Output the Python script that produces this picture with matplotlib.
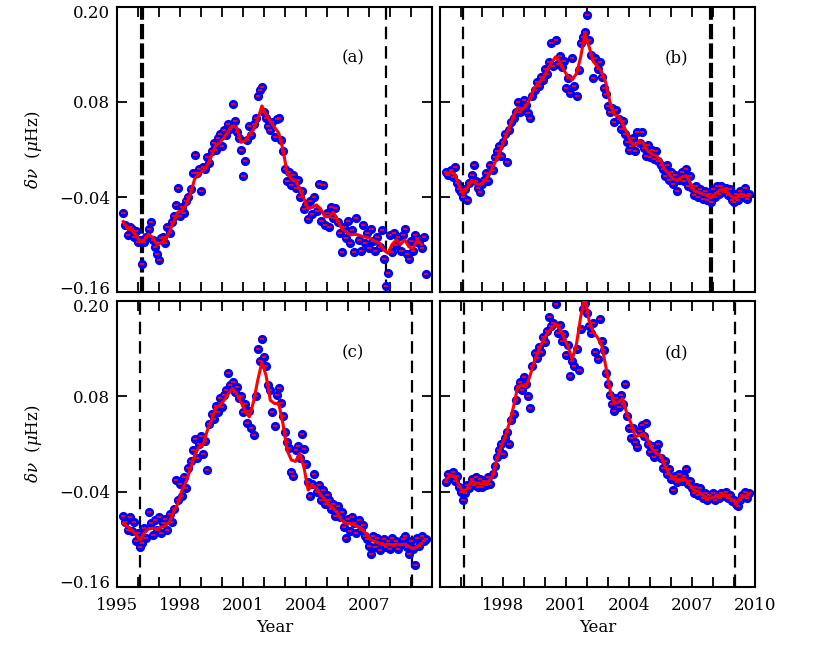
import numpy as np
import matplotlib
matplotlib.use('Agg')
import matplotlib.pyplot as plt
import matplotlib.transforms as mtrans
from matplotlib.ticker import FixedLocator, MultipleLocator

plt.rcParams['font.family'] = 'DejaVu Serif'
plt.rcParams['mathtext.fontset'] = 'dejavuserif'
plt.rcParams['lines.scale_dashes'] = False

##      time axes      ##
# scatter points, one every 0.1 yr (rows = calendar years)
yrs = [1995.3, 1995.4, 1995.5, 1995.6, 1995.7, 1995.8, 1995.9,
       1996.0, 1996.1, 1996.2, 1996.3, 1996.4, 1996.5, 1996.6, 1996.7, 1996.8, 1996.9,
       1997.0, 1997.1, 1997.2, 1997.3, 1997.4, 1997.5, 1997.6, 1997.7, 1997.8, 1997.9,
       1998.0, 1998.1, 1998.2, 1998.3, 1998.4, 1998.5, 1998.6, 1998.7, 1998.8, 1998.9,
       1999.0, 1999.1, 1999.2, 1999.3, 1999.4, 1999.5, 1999.6, 1999.7, 1999.8, 1999.9,
       2000.0, 2000.1, 2000.2, 2000.3, 2000.4, 2000.5, 2000.6, 2000.7, 2000.8, 2000.9,
       2001.0, 2001.1, 2001.2, 2001.3, 2001.4, 2001.5, 2001.6, 2001.7, 2001.8, 2001.9,
       2002.0, 2002.1, 2002.2, 2002.3, 2002.4, 2002.5, 2002.6, 2002.7, 2002.8, 2002.9,
       2003.0, 2003.1, 2003.2, 2003.3, 2003.4, 2003.5, 2003.6, 2003.7, 2003.8, 2003.9,
       2004.0, 2004.1, 2004.2, 2004.3, 2004.4, 2004.5, 2004.6, 2004.7, 2004.8, 2004.9,
       2005.0, 2005.1, 2005.2, 2005.3, 2005.4, 2005.5, 2005.6, 2005.7, 2005.8, 2005.9,
       2006.0, 2006.1, 2006.2, 2006.3, 2006.4, 2006.5, 2006.6, 2006.7, 2006.8, 2006.9,
       2007.0, 2007.1, 2007.2, 2007.3, 2007.4, 2007.5, 2007.6, 2007.7, 2007.8, 2007.9,
       2008.0, 2008.1, 2008.2, 2008.3, 2008.4, 2008.5, 2008.6, 2008.7, 2008.8, 2008.9,
       2009.0, 2009.1, 2009.2, 2009.3, 2009.4, 2009.5, 2009.6, 2009.7]

# smoothed curve, one every 0.2 yr
yrs_s = [1995.3, 1995.5, 1995.7, 1995.9,
         1996.1, 1996.3, 1996.5, 1996.7, 1996.9,
         1997.1, 1997.3, 1997.5, 1997.7, 1997.9,
         1998.1, 1998.3, 1998.5, 1998.7, 1998.9,
         1999.1, 1999.3, 1999.5, 1999.7, 1999.9,
         2000.1, 2000.3, 2000.5, 2000.7, 2000.9,
         2001.1, 2001.3, 2001.5, 2001.7, 2001.9,
         2002.1, 2002.3, 2002.5, 2002.7, 2002.9,
         2003.1, 2003.3, 2003.5, 2003.7, 2003.9,
         2004.1, 2004.3, 2004.5, 2004.7, 2004.9,
         2005.1, 2005.3, 2005.5, 2005.7, 2005.9,
         2006.1, 2006.3, 2006.5, 2006.7, 2006.9,
         2007.1, 2007.3, 2007.5, 2007.7, 2007.9,
         2008.1, 2008.3, 2008.5, 2008.7, 2008.9,
         2009.1, 2009.3, 2009.5, 2009.7]

##      panel (a)      ##
dnu_a = [-0.060, -0.075, -0.088, -0.078, -0.080, -0.090, -0.083,
         -0.097, -0.094, -0.125, -0.097, -0.090, -0.080, -0.072, -0.094, -0.103, -0.112,
         -0.120, -0.092, -0.090, -0.098, -0.078, -0.086, -0.072, -0.064, -0.050, -0.028,
         -0.064, -0.052, -0.060, -0.045, -0.040, -0.030, -0.010, 0.013, -0.010, -0.004,
         -0.032, -0.002, -0.005, 0.010, 0.003, 0.018, 0.028, 0.020, 0.034, 0.040,
         0.025, 0.045, 0.038, 0.052, 0.046, 0.078, 0.056, 0.042, 0.035, 0.020,
         -0.013, 0.005, 0.032, 0.050, 0.038, 0.052, 0.060, 0.088, 0.095, 0.099,
         0.068, 0.060, 0.050, 0.045, 0.055, 0.036, 0.058, 0.060, 0.032, 0.018,
         -0.005, -0.020, -0.008, -0.025, -0.012, -0.028, -0.018, -0.040, -0.032, -0.055,
         -0.050, -0.068, -0.045, -0.062, -0.040, -0.058, -0.024, -0.070, -0.025, -0.075,
         -0.060, -0.078, -0.052, -0.066, -0.054, -0.072, -0.085, -0.110, -0.078, -0.092,
         -0.070, -0.098, -0.082, -0.110, -0.066, -0.094, -0.108, -0.075, -0.098, -0.085,
         -0.104, -0.080, -0.095, -0.108, -0.090, -0.103, -0.082, -0.118, -0.153, -0.136,
         -0.088, -0.110, -0.085, -0.100, -0.090, -0.108, -0.088, -0.080, -0.112, -0.118,
         -0.096, -0.108, -0.088, -0.092, -0.098, -0.104, -0.090, -0.137]
smo_a = [-0.071, -0.080, -0.082, -0.088,
         -0.096, -0.094, -0.087, -0.091, -0.100,
         -0.098, -0.094, -0.084, -0.071, -0.059,
         -0.057, -0.050, -0.036, -0.017, -0.011,
         -0.007, 0.000, 0.012, 0.025, 0.029,
         0.035, 0.043, 0.050, 0.048, 0.029,
         0.031, 0.039, 0.045, 0.058, 0.075,
         0.064, 0.056, 0.048, 0.041, 0.020,
         -0.009, -0.017, -0.019, -0.030, -0.042,
         -0.055, -0.053, -0.050, -0.055, -0.065,
         -0.065, -0.059, -0.069, -0.080, -0.084,
         -0.088, -0.087, -0.088, -0.090, -0.091,
         -0.093, -0.096, -0.098, -0.107, -0.111,
         -0.100, -0.094, -0.100, -0.094, -0.103,
         -0.105, -0.094, -0.100, np.nan]

##      panel (b)      ##
dnu_b = [-0.008, -0.012, -0.006, -0.015, -0.002, -0.022, -0.030,
         -0.034, -0.040, -0.030, -0.044, -0.022, -0.012, 0.000, -0.020, -0.028, -0.034,
         -0.024, -0.018, -0.010, -0.020, 0.000, -0.006, 0.010, 0.018, 0.024, 0.012,
         0.030, 0.040, 0.004, 0.045, 0.055, 0.060, 0.068, 0.080, 0.068, 0.072,
         0.082, 0.076, 0.066, 0.060, 0.088, 0.095, 0.105, 0.100, 0.112, 0.108,
         0.122, 0.115, 0.130, 0.155, 0.125, 0.158, 0.128, 0.138, 0.124, 0.132,
         0.098, 0.110, 0.092, 0.135, 0.100, 0.088, 0.120, 0.155, 0.162, 0.168,
         0.190, 0.158, 0.140, 0.110, 0.135, 0.122, 0.130, 0.112, 0.098, 0.090,
         0.075, 0.068, 0.072, 0.055, 0.070, 0.058, 0.046, 0.056, 0.040, 0.030,
         0.020, 0.024, 0.035, 0.018, 0.042, 0.028, 0.042, 0.022, 0.012, 0.026,
         0.010, 0.020, 0.008, 0.018, 0.006, 0.000, -0.004, -0.014, 0.000, -0.018,
         -0.008, -0.024, -0.012, -0.033, -0.018, -0.008, -0.020, -0.004, -0.026, -0.014,
         -0.028, -0.038, -0.026, -0.040, -0.030, -0.042, -0.032, -0.044, -0.036, -0.046,
         -0.030, -0.040, -0.026, -0.036, -0.026, -0.034, -0.028, -0.038, -0.030, -0.044,
         -0.046, -0.036, -0.044, -0.032, -0.040, -0.028, -0.042, -0.036]
smo_b = [-0.011, -0.009, -0.011, -0.025,
         -0.036, -0.028, -0.019, -0.023, -0.025,
         -0.020, -0.013, -0.003, 0.008, 0.020,
         0.035, 0.048, 0.062, 0.073, 0.070,
         0.075, 0.085, 0.098, 0.104, 0.110,
         0.120, 0.129, 0.137, 0.131, 0.120,
         0.112, 0.108, 0.116, 0.137, 0.166,
         0.150, 0.131, 0.125, 0.118, 0.104,
         0.079, 0.064, 0.062, 0.052, 0.041,
         0.029, 0.025, 0.031, 0.027, 0.018,
         0.014, 0.012, 0.006, -0.005, -0.011,
         -0.017, -0.019, -0.015, -0.013, -0.021,
         -0.032, -0.034, -0.036, -0.038, -0.041,
         -0.036, -0.032, -0.030, -0.034, -0.040,
         -0.042, -0.036, -0.038, -0.038]

##      panel (c)      ##
dnu_c = [-0.070, -0.078, -0.088, -0.072, -0.090, -0.078, -0.102,
         -0.092, -0.110, -0.104, -0.086, -0.098, -0.065, -0.080, -0.094, -0.076, -0.088,
         -0.072, -0.092, -0.080, -0.074, -0.088, -0.068, -0.078, -0.062, -0.025, -0.050,
         -0.030, -0.045, -0.022, -0.035, -0.010, -0.002, 0.012, 0.026, 0.002, 0.020,
         0.030, 0.008, 0.024, -0.013, 0.045, 0.058, 0.052, 0.068, 0.060, 0.078,
         0.066, 0.082, 0.088, 0.109, 0.094, 0.098, 0.086, 0.092, 0.078, 0.080,
         0.060, 0.070, 0.046, 0.062, 0.040, 0.031, 0.080, 0.140, 0.125, 0.152,
         0.130, 0.118, 0.094, 0.088, 0.060, 0.043, 0.082, 0.090, 0.072, 0.055,
         0.035, 0.022, 0.015, -0.015, -0.020, 0.012, 0.018, 0.002, 0.033, 0.014,
         -0.005, -0.028, -0.045, -0.030, -0.018, -0.040, -0.032, -0.050, -0.038, -0.056,
         -0.044, -0.050, -0.062, -0.055, -0.070, -0.058, -0.072, -0.065, -0.085, -0.098,
         -0.075, -0.090, -0.072, -0.080, -0.092, -0.076, -0.088, -0.082, -0.096, -0.100,
         -0.108, -0.119, -0.096, -0.110, -0.098, -0.114, -0.104, -0.100, -0.110, -0.102,
         -0.112, -0.098, -0.108, -0.102, -0.112, -0.106, -0.100, -0.096, -0.110, -0.118,
         -0.102, -0.112, -0.132, -0.098, -0.108, -0.096, -0.102, -0.100]
smo_c = [-0.080, -0.084, -0.088, -0.094,
         -0.101, -0.092, -0.087, -0.086, -0.087,
         -0.085, -0.083, -0.078, -0.065, -0.055,
         -0.038, -0.027, -0.011, 0.006, 0.016,
         0.019, 0.037, 0.050, 0.065, 0.069,
         0.075, 0.083, 0.090, 0.083, 0.073,
         0.062, 0.054, 0.073, 0.100, 0.123,
         0.106, 0.075, 0.071, 0.071, 0.046,
         0.012, 0.000, -0.002, 0.008, -0.009,
         -0.038, -0.032, -0.036, -0.044, -0.050,
         -0.057, -0.061, -0.067, -0.076, -0.080,
         -0.080, -0.082, -0.084, -0.088, -0.094,
         -0.101, -0.103, -0.105, -0.107, -0.106,
         -0.107, -0.106, -0.107, -0.106, -0.109,
         -0.112, -0.109, -0.105, np.nan]

##      panel (d)      ##
dnu_d = [-0.028, -0.018, -0.022, -0.015, -0.026, -0.020, -0.034,
         -0.040, -0.050, -0.042, -0.032, -0.036, -0.024, -0.032, -0.022, -0.034, -0.024,
         -0.034, -0.026, -0.032, -0.022, -0.030, -0.018, -0.008, 0.004, 0.012, 0.020,
         0.008, 0.028, 0.035, 0.020, 0.050, 0.058, 0.075, 0.090, 0.098, 0.088,
         0.104, 0.095, 0.080, 0.065, 0.118, 0.135, 0.128, 0.142, 0.136, 0.155,
         0.148, 0.162, 0.180, 0.168, 0.172, 0.196, 0.160, 0.170, 0.150, 0.158,
         0.132, 0.145, 0.106, 0.125, 0.118, 0.140, 0.113, 0.165, 0.190, 0.198,
         0.185, 0.168, 0.160, 0.172, 0.136, 0.127, 0.177, 0.150, 0.138, 0.110,
         0.095, 0.082, 0.070, 0.062, 0.078, 0.066, 0.082, 0.070, 0.096, 0.055,
         0.040, 0.028, 0.040, 0.022, 0.016, 0.036, 0.044, 0.030, 0.046, 0.020,
         0.010, 0.018, 0.004, 0.012, 0.020, 0.002, -0.010, -0.002, -0.018, -0.012,
         -0.024, -0.038, -0.020, -0.028, -0.018, -0.026, -0.020, -0.012, -0.030, -0.026,
         -0.036, -0.042, -0.034, -0.044, -0.036, -0.048, -0.042, -0.050, -0.044, -0.048,
         -0.042, -0.050, -0.044, -0.048, -0.042, -0.046, -0.040, -0.048, -0.044, -0.052,
         -0.050, -0.056, -0.058, -0.050, -0.044, -0.040, -0.048, -0.042]
smo_d = [-0.025, -0.019, -0.021, -0.032,
         -0.040, -0.036, -0.027, -0.029, -0.030,
         -0.030, -0.027, -0.021, 0.000, 0.016,
         0.029, 0.046, 0.067, 0.092, 0.094,
         0.092, 0.107, 0.125, 0.138, 0.150,
         0.159, 0.165, 0.171, 0.165, 0.154,
         0.142, 0.127, 0.146, 0.180, 0.206,
         0.175, 0.161, 0.154, 0.144, 0.117,
         0.088, 0.071, 0.073, 0.077, 0.058,
         0.046, 0.029, 0.031, 0.033, 0.025,
         0.014, 0.008, 0.006, -0.007, -0.017,
         -0.024, -0.025, -0.024, -0.025, -0.032,
         -0.038, -0.040, -0.044, -0.048, -0.048,
         -0.046, -0.046, -0.044, -0.046, -0.050,
         -0.054, -0.048, -0.046, -0.044]

# minima epochs marked in each panel: (year, heavy?)
mark_a = [(1996.19, True), (2007.82, False)]
mark_b = [(1996.11, False), (2007.90, True), (2009.01, False)]
mark_c = [(1996.11, False), (2009.03, False)]
mark_d = [(1996.16, False), (2009.04, False)]

panels = [('(a)', dnu_a, smo_a, mark_a),
          ('(b)', dnu_b, smo_b, mark_b),
          ('(c)', dnu_c, smo_c, mark_c),
          ('(d)', dnu_d, smo_d, mark_d)]

ytks = [-0.16, -0.04, 0.08, 0.20]
ylab = ['\u22120.16', '\u22120.04', '0.08', '0.20']
xtks = [1995, 1998, 2001, 2004, 2007, 2010]

W, H = 830, 653
fig = plt.figure(figsize=(W / 100, H / 100), dpi=100)
# axes boxes in pixels: left, top, width, height
boxes = [(117, 7, 315, 285), (440, 7, 315, 285),
         (117, 301, 315, 286), (440, 301, 315, 286)]

for k, (lab, dnu, smo, marks) in enumerate(panels):
    l, t, w, h = boxes[k]
    ax = fig.add_axes([l / W, 1 - (t + h) / H, w / W, h / H])
    ax.set_xlim(1995, 2010)
    ax.set_ylim(-0.16, 0.20)

    for yr, heavy in marks:
        if heavy:
            ax.axvline(yr, color='black', lw=3.0, dashes=(11, 3), zorder=1)
        else:
            ax.axvline(yr, color='black', lw=1.6, dashes=(9, 5), zorder=1)

    ax.plot(yrs, dnu, 'o', color='blue', ms=5.6, mec='blue', zorder=2)
    ax.plot(yrs, dnu, '_', color='red', ms=3, mew=1.4, zorder=3)
    ax.plot(yrs_s, smo, '-', color='red', lw=2.2, zorder=4)

    ax.text(0.75, 0.82, lab, transform=ax.transAxes, fontsize=12,
            ha='center', va='center')

    ax.xaxis.set_major_locator(FixedLocator(xtks))
    ax.xaxis.set_minor_locator(MultipleLocator(1))
    ax.yaxis.set_major_locator(FixedLocator(ytks))
    if k >= 2:
        if k == 2:
            ax.set_xticklabels(['1995', '1998', '2001', '2004', '2007', ''])
        else:
            ax.set_xticklabels(['', '1998', '2001', '2004', '2007', '2010'])
        ax.set_xlabel('Year', fontsize=12, labelpad=4)
    else:
        ax.set_xticklabels([])
    if k % 2 == 0:
        ax.set_yticklabels(ylab)
        fig.text(33 / W, 1 - (t + h / 2) / H, r'$\delta\nu$  ($\mu$Hz)',
                 rotation=90, ha='center', va='center', fontsize=12)
    else:
        ax.set_yticklabels([])

    ax.tick_params(which='both', direction='in', top=True, right=True,
                   length=7, width=1.3, labelsize=12)
    ax.tick_params(axis='x', which='both', pad=7)
    ax.tick_params(axis='y', pad=5)
    for sp in ax.spines.values():
        sp.set_linewidth(1.5)

    # end labels pulled inside the frame, as in the original
    if k % 2 == 0:
        tl = ax.get_yticklabels()
        tl[0].set_transform(tl[0].get_transform() +
                            mtrans.ScaledTranslation(0, 5 / 100, fig.dpi_scale_trans))
        tl[-1].set_transform(tl[-1].get_transform() +
                             mtrans.ScaledTranslation(0, -5 / 100, fig.dpi_scale_trans))

fig.savefig('out.png', dpi=100)
